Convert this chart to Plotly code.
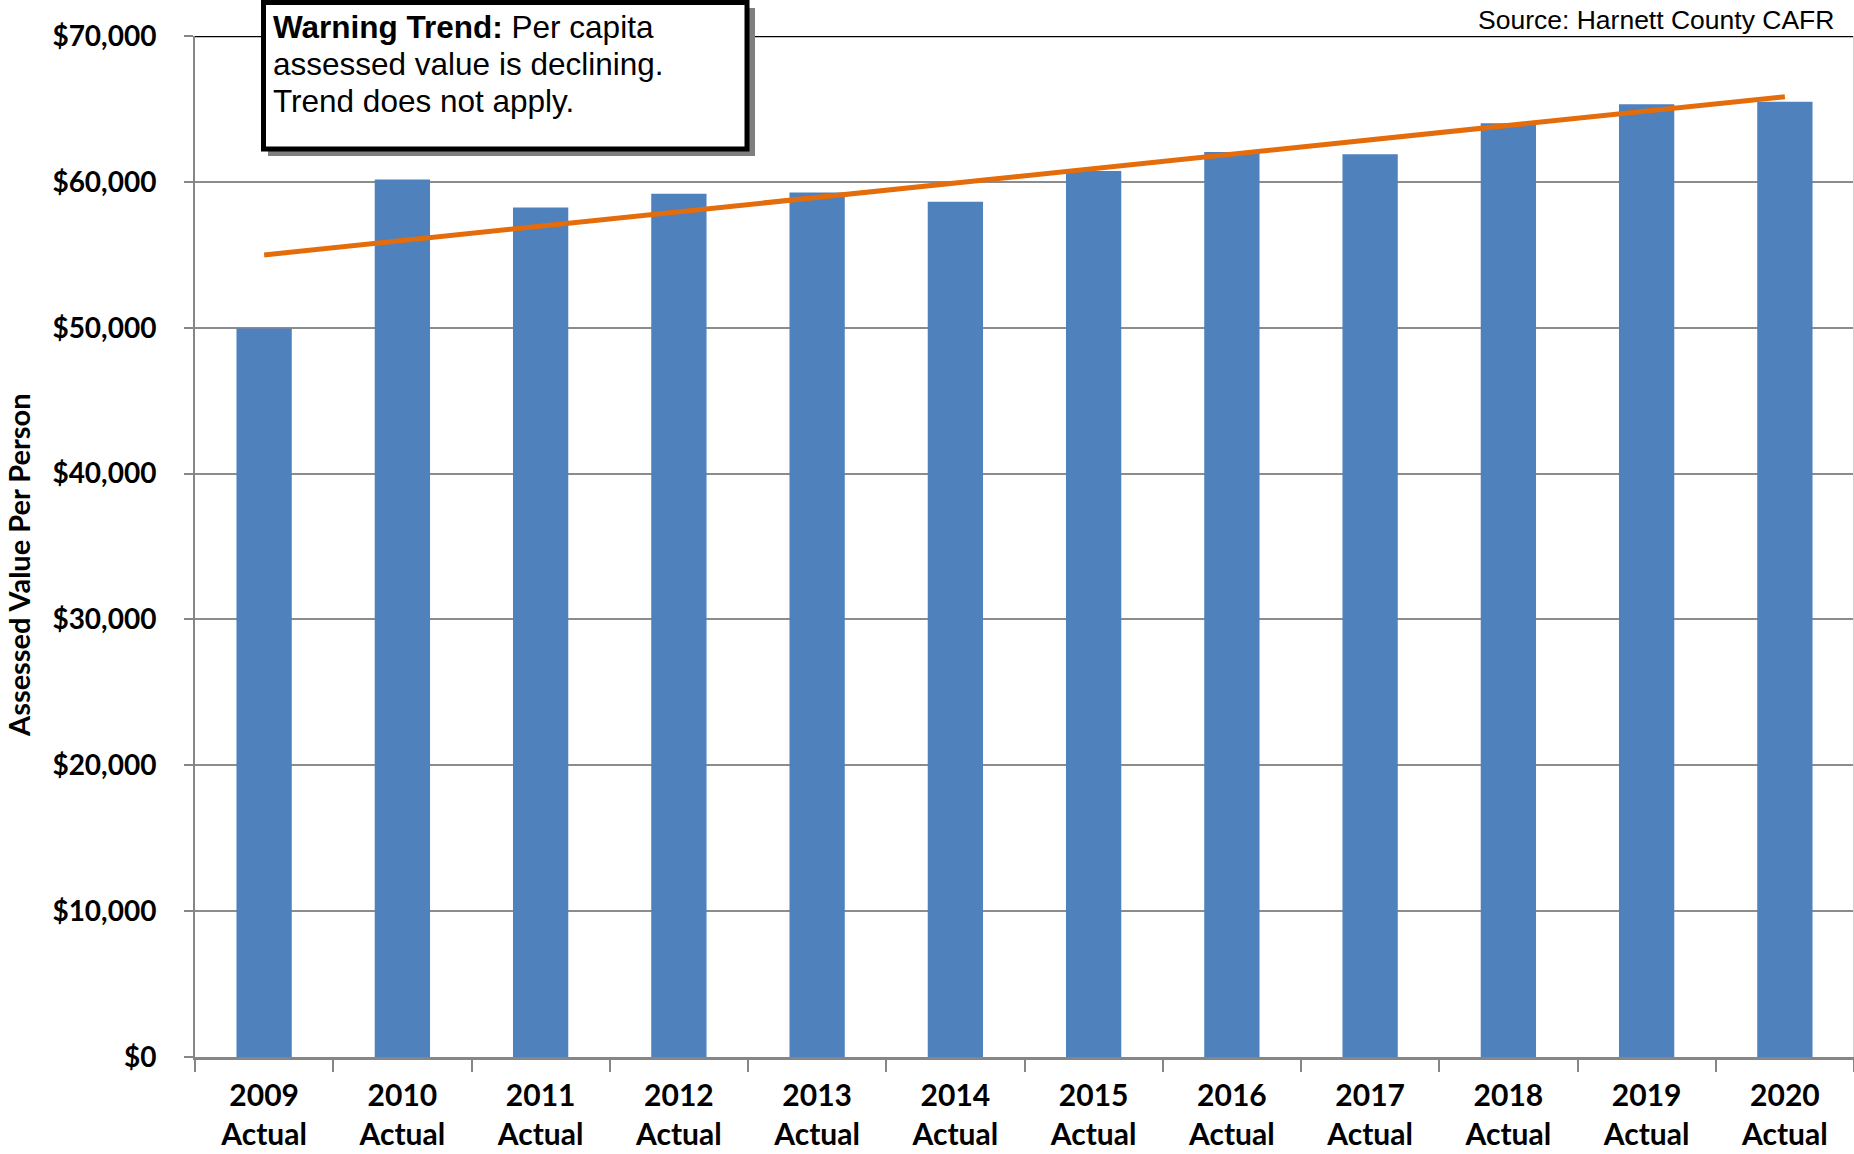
import plotly.graph_objects as go

# values
years = ["2009", "2010", "2011", "2012", "2013", "2014",
         "2015", "2016", "2017", "2018", "2019", "2020"]
categories = [f"{y}<br>Actual" for y in years]
assessed_value = [49950, 60160, 58240, 59180, 59270, 58630,
                  60750, 62050, 61900, 64020, 65320, 65500]
trend_categories = [categories[0], categories[-1]]
trend_values = [54990, 65840]
y_ticks = [0, 10000, 20000, 30000, 40000, 50000, 60000, 70000]
y_tick_labels = [f"${v:,}" for v in y_ticks]
warning_lines = ["<b>Warning Trend:</b> Per capita",
                 "assessed value is declining.",
                 "Trend does not apply."]

W, H = 1854, 1154
L, R, T, B = 195, 0, 36, 97


def px(x):
    return (x - L) / (W - L - R)


def py(y):
    return (H - B - y) / (H - T - B)


fig = go.Figure()

fig.add_trace(go.Bar(
    x=categories, y=assessed_value,
    marker_color="#4F81BD", marker_line_width=0,
    name="Assessed Value Per Person",
))

fig.add_trace(go.Scatter(
    x=trend_categories, y=trend_values, mode="lines",
    line=dict(color="#E46C0A", width=5),
    name="Trend",
))

fig.update_layout(
    width=W, height=H,
    margin=dict(l=L, r=R, t=T, b=B),
    plot_bgcolor="white", paper_bgcolor="white",
    showlegend=False,
    bargap=0.6,
    xaxis=dict(
        type="category",
        range=[-0.5, 11.5],
        showline=True, linecolor="#868686", linewidth=3,
        ticks="outside", tickson="boundaries", ticklen=12,
        tickcolor="#868686", tickwidth=1.5,
        tickfont=dict(family="Lato, Calibri, sans-serif", size=30, color="#000000", weight="bold"),
        ticklabelstandoff=10,
        showgrid=False,
    ),
    yaxis=dict(
        range=[0, 70000],
        tickvals=y_ticks, ticktext=y_tick_labels,
        showline=True, linecolor="#868686", linewidth=2,
        ticks="outside", ticklen=9, tickcolor="#868686", tickwidth=1.5,
        tickfont=dict(family="Lato, Calibri, sans-serif", size=28, color="#000000", weight="bold"),
        ticklabelstandoff=22,
        showgrid=True, gridcolor="#8C8C8C", gridwidth=2,
        zeroline=False,
    ),
)

shapes = [
    # dark top border of the plot area
    dict(type="line", xref="paper", yref="y", x0=0, x1=1, y0=70000, y1=70000,
         line=dict(color="#000000", width=2.5), layer="above"),
    # light right border
    dict(type="line", xref="paper", yref="paper", x0=1, x1=1, y0=0, y1=1,
         line=dict(color="#D0D0D0", width=2), layer="above"),
    # callout shadow
    dict(type="rect", xref="paper", yref="paper",
         x0=px(268), x1=px(755), y0=py(156), y1=py(8),
         fillcolor="#7F7F7F", line=dict(width=0), layer="above"),
    # callout box
    dict(type="rect", xref="paper", yref="paper",
         x0=px(263.5), x1=px(747), y0=py(149), y1=py(2.5),
         fillcolor="white", line=dict(color="#000000", width=5), layer="above"),
]
fig.update_layout(shapes=shapes)

for line_text, line_y in zip(warning_lines, [27, 64, 101]):
    fig.add_annotation(
        xref="paper", yref="paper", x=px(271), y=py(line_y),
        xanchor="left", yanchor="middle", align="left", showarrow=False,
        text=line_text,
        font=dict(family="Liberation Sans, Arial, sans-serif", size=31.5, color="#000000"),
    )

fig.add_annotation(
    xref="paper", yref="paper", x=px(1836), y=py(20),
    xanchor="right", yanchor="middle", showarrow=False,
    text="Source: Harnett County CAFR",
    font=dict(family="Liberation Sans, Arial, sans-serif", size=26.5, color="#000000"),
)

fig.add_annotation(
    xref="paper", yref="paper", x=px(18), y=py(565),
    xanchor="center", yanchor="middle", showarrow=False, textangle=-90,
    text="Assessed Value Per Person",
    font=dict(family="Lato, Calibri, sans-serif", size=29, color="#000000", weight="bold"),
)

# drop the default body margin so the figure sits at the page corner
fig.write_html(
    "out.html",
    config={"displayModeBar": False},
    post_script="document.body.style.margin='0';document.body.style.overflow='hidden';",
)
